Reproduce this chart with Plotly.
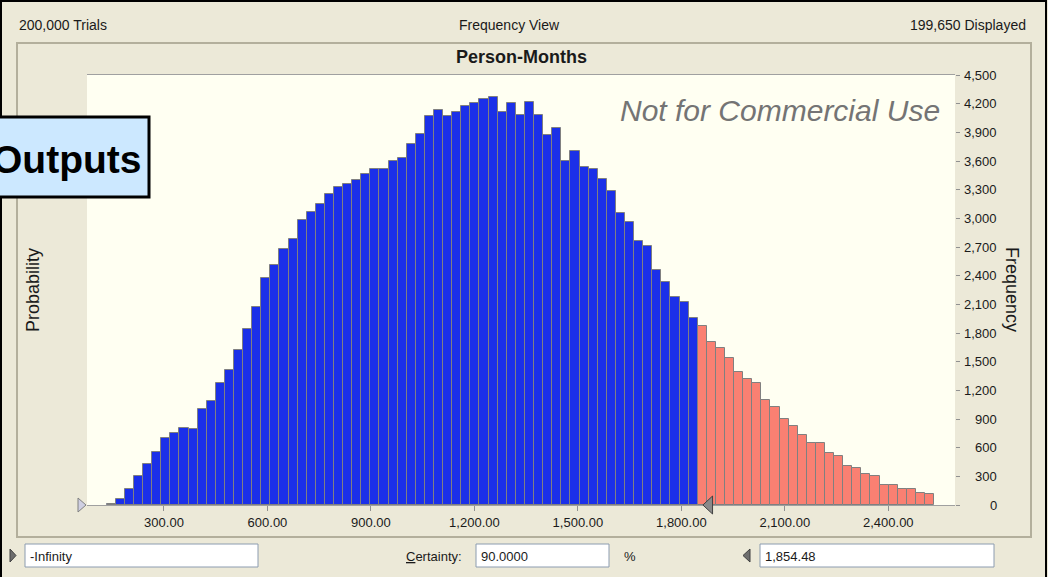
import plotly.graph_objects as go  # Plotly graph objects for the histogram

# ---- data ----
trials = 200000  # total trials
displayed = 199650  # trials shown in the chart
bin_start = 134.0  # left edge of the first bin (person-months)
bin_width = 26.36  # width of one bin
certainty_low = "-Infinity"  # lower grabber value
certainty_high = 1854.48  # upper grabber value
certainty_pct = 90.0  # certainty in percent

# frequency of each bin, left to right
frequency = [
    15, 60, 168, 301, 427, 559, 700, 752, 808, 797,
    1004, 1091, 1276, 1416, 1622, 1839, 2070, 2374, 2511, 2675,
    2783, 2979, 3066, 3147, 3252, 3329, 3360, 3402, 3469, 3520,
    3514, 3601, 3633, 3783, 3881, 4067, 4133, 4074, 4109, 4175,
    4206, 4248, 4273, 4109, 4206, 4077, 4220, 4077, 3871, 3948,
    3601, 3706, 3538, 3521, 3412, 3287, 3060, 2962, 2766, 2710,
    2458, 2339, 2178, 2122, 1958, 1875, 1710, 1644, 1535, 1395,
    1318, 1276, 1101, 1025, 905, 829, 731, 654, 654, 545,
    517, 406, 392, 328, 308, 210, 210, 165, 165, 123, 112,
]

x_ticks = [300, 600, 900, 1200, 1500, 1800, 2100, 2400]  # person-months ticks
freq_ticks = [0, 300, 600, 900, 1200, 1500, 1800, 2100, 2400, 2700, 3000, 3300, 3600, 3900, 4200, 4500]
prob_ticks = [0.0, 0.01, 0.02]
x_range = [76.8, 2593.4]
freq_max = 4500

# ---- page geometry (pixels) ----
W, H = 1048, 577
L, R, T, B = 87, 955, 75, 505  # plot area edges

def px(x):
    return (x - L) / (R - L)  # pixel -> paper x

def py(y):
    return (B - y) / (B - T)  # pixel -> paper y

FONT = "Liberation Sans, Arial, sans-serif"
BG = "#ECE9D8"

centers = [bin_start + bin_width * (i + 0.5) for i in range(len(frequency))]
colors = ["#1B30E8" if c < certainty_high else "#FA8072" for c in centers]  # blue inside certainty, salmon outside

fig = go.Figure()
fig.add_trace(go.Bar(
    x=centers, y=frequency, width=bin_width, yaxis="y2",
    marker=dict(color=colors, line=dict(color="#808080", width=1)),
    hoverinfo="skip",
))

shapes = []
annotations = []

# window frame and group box
shapes.append(dict(type="rect", xref="paper", yref="paper", x0=px(1), x1=px(1046), y0=py(1), y1=py(600),
                   line=dict(color="black", width=2), layer="below"))
shapes.append(dict(type="rect", xref="paper", yref="paper", x0=px(17), x1=px(1031), y0=py(43), y1=py(537),
                   line=dict(color="#B3AF9C", width=2), layer="below"))

# header texts
annotations.append(dict(text=f"{trials:,} Trials", x=px(17), y=py(25), xanchor="left", font=dict(size=14)))
annotations.append(dict(text="Frequency View", x=px(509), y=py(25), xanchor="center", font=dict(size=14)))
annotations.append(dict(text=f"{displayed:,} Displayed", x=px(1028), y=py(25), xanchor="right", font=dict(size=14)))
annotations.append(dict(text="<b>Person-Months</b>", x=px(521), y=py(57), xanchor="center", font=dict(size=18)))

# watermark
annotations.append(dict(text="<i>Not for Commercial Use</i>", x=px(942), y=py(110), xanchor="right",
                        font=dict(size=30, color="#747474")))

# right axis labels (right aligned)
for v in freq_ticks:
    annotations.append(dict(text=f"{v:,}", x=px(999), y=v, yref="y2", xanchor="right", font=dict(size=13)))

# axis titles
annotations.append(dict(text="Probability", x=px(33), y=py(290), xanchor="center", textangle=-90, font=dict(size=18)))
annotations.append(dict(text="Frequency", x=px(1012), y=py(290), xanchor="center", textangle=90, font=dict(size=18)))

# grabbers on the axis
shapes.append(dict(type="path", xref="paper", yref="paper",
                   path=f"M {px(78)},{py(498)} L {px(86)},{py(505)} L {px(78)},{py(512)} Z",
                   fillcolor="#CFCFE2", line=dict(color="#808080", width=1), layer="above"))
shapes.append(dict(type="path", xref="x", yref="paper",
                   path=f"M {certainty_high + 8},{py(505)} L {certainty_high + 36},{py(496)} L {certainty_high + 36},{py(514)} Z",
                   fillcolor="#8A8A8A", line=dict(color="#404040", width=1), layer="above"))

# "Outputs" label box (cut by the window edge, as in the screenshot)
shapes.append(dict(type="rect", xref="paper", yref="paper", x0=px(-30), x1=px(149), y0=py(117), y1=py(197),
                   fillcolor="#CCE8FF", line=dict(color="black", width=3), layer="above"))
annotations.append(dict(text="<b>Outputs</b>", x=px(143), y=py(159), xanchor="right", font=dict(size=39, color="black")))

# bottom controls
for x0, x1 in [(25, 258), (476, 609), (760, 994)]:
    shapes.append(dict(type="rect", xref="paper", yref="paper", x0=px(x0), x1=px(x1), y0=py(544), y1=py(567),
                       fillcolor="white", line=dict(color="#8C9CB0", width=1), layer="above"))
shapes.append(dict(type="path", xref="paper", yref="paper",
                   path=f"M {px(10)},{py(549)} L {px(16)},{py(555.5)} L {px(10)},{py(562)} Z",
                   fillcolor="#6E6E6E", line=dict(color="#404040", width=1), layer="above"))
shapes.append(dict(type="path", xref="paper", yref="paper",
                   path=f"M {px(750)},{py(549)} L {px(743)},{py(555.5)} L {px(750)},{py(562)} Z",
                   fillcolor="#6E6E6E", line=dict(color="#404040", width=1), layer="above"))
annotations.append(dict(text=certainty_low, x=px(28), y=py(556), xanchor="left", font=dict(size=13)))
annotations.append(dict(text="<u>C</u>ertainty:", x=px(404), y=py(556), xanchor="left", font=dict(size=13)))
annotations.append(dict(text=f"{certainty_pct:.4f}", x=px(479), y=py(556), xanchor="left", font=dict(size=13)))
annotations.append(dict(text="%", x=px(622), y=py(556), xanchor="left", font=dict(size=13)))
annotations.append(dict(text=f"{certainty_high:,.2f}", x=px(763), y=py(556), xanchor="left", font=dict(size=13)))

for a in annotations:
    a.setdefault("xref", "paper")
    a.setdefault("yref", "paper")
    a["showarrow"] = False
    a.setdefault("yanchor", "middle")

fig.update_layout(
    width=W, height=H,
    margin=dict(l=L, r=W - R, t=T, b=H - B, pad=0),
    paper_bgcolor=BG, plot_bgcolor="#FFFFF2",
    font=dict(family=FONT, size=13, color="#1A1A1A"),
    showlegend=False, bargap=0,
    xaxis=dict(
        range=x_range, tickvals=x_ticks, ticktext=[f"{v:,.2f}" for v in x_ticks],
        ticks="outside", ticklen=5, tickcolor="#909090", showgrid=False, zeroline=False,
        showline=True, mirror=True, linecolor="#A0A0A0", linewidth=1, tickfont=dict(size=13),
    ),
    yaxis=dict(
        range=[0, freq_max / displayed], tickvals=prob_ticks, ticktext=[f"{v:.2f}" for v in prob_ticks],
        ticks="outside", ticklen=4, tickcolor="#909090", showgrid=True, gridcolor="#A8A8A0", gridwidth=1,
        zeroline=False, showline=True, mirror=True, linecolor="#A0A0A0", linewidth=1, tickfont=dict(size=13),
    ),
    yaxis2=dict(
        range=[0, freq_max], overlaying="y", side="right", tickvals=freq_ticks, showticklabels=False,
        ticks="outside", ticklen=4, tickcolor="#909090", showgrid=False, zeroline=False,
    ),
    shapes=shapes,
    annotations=annotations,
)

# the page body has a default 8px margin; drop it so the figure fills the window like the screenshot
fig.write_html("out.html", config={"displayModeBar": False},
               post_script="document.body.style.margin='0';document.body.style.overflow='hidden';")
